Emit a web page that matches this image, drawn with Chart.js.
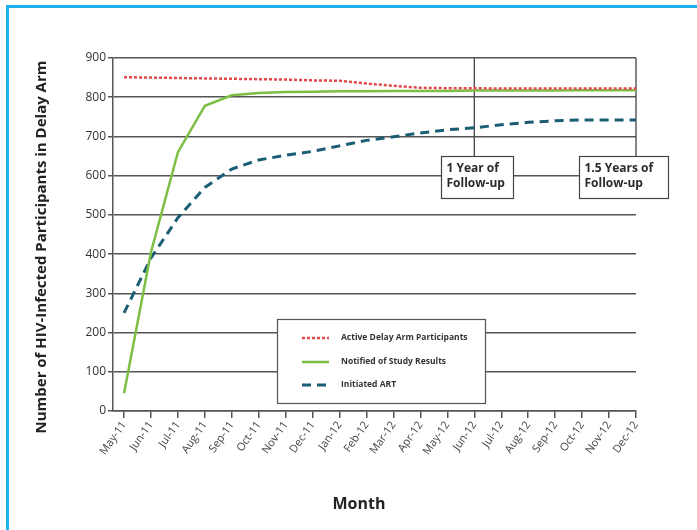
<!DOCTYPE html>
<html><head><meta charset="utf-8">
<script src="https://cdn.jsdelivr.net/npm/chart.js@4.4.1/dist/chart.umd.min.js"></script>
<style>
html,body{margin:0;padding:0;background:#fff;}
#frame{position:absolute;left:6px;top:5px;width:1000px;height:1000px;border-left:3px solid #1cb0ec;border-top:3px solid #1cb0ec;}
#wrap{position:absolute;left:0;top:0;width:697px;height:530px;}
</style></head><body>
<div id="frame"></div>
<div id="wrap"><canvas id="c" width="697" height="530"></canvas></div>
<script>
const months = ['May-11','Jun-11','Jul-11','Aug-11','Sep-11','Oct-11','Nov-11','Dec-11','Jan-12','Feb-12','Mar-12','Apr-12','May-12','Jun-12','Jul-12','Aug-12','Sep-12','Oct-12','Nov-12','Dec-12'];
const activeDelay = [851,850,849,848,847,846,845,843,842,835,829,824,823,823,822,822,822,822,822,822];
const notified = [45,405,660,778,805,811,813,814,815,815,816,816,816,817,817,817,817,818,818,818];
const initiatedART = [250,390,493,570,617,640,652,662,676,690,699,709,717,722,730,736,740,742,742,742];
const seriesNames = ['Active Delay Arm Participants','Notified of Study Results','Initiated ART'];
const yTickValues = [0,100,200,300,400,500,600,700,800,900];
const markerMonths = ['Jun-12','Dec-12'];
const markerLabels = [['1 Year of','Follow-up'],['1.5 Years of','Follow-up']];
const yTitle = 'Number of HIV-Infected Participants in Delay Arm';
const xTitle = 'Month';

const FONT = "'Open Sans', 'DejaVu Sans', sans-serif";
const toPts = arr => arr.map((v,i)=>({x:i,y:v}));

const overlay = {
  id:'overlay',
  beforeDatasetsDraw(chart){
    const {ctx, chartArea, scales:{x}} = chart;
    ctx.save();
    ctx.strokeStyle = '#444'; ctx.lineWidth = 1.3;
    markerMonths.forEach(m=>{
      const px = x.getPixelForValue(months.indexOf(m));
      ctx.beginPath(); ctx.moveTo(px, chartArea.top); ctx.lineTo(px, 157); ctx.stroke();
    });
    ctx.restore();
  },
  afterDraw(chart){
    const {ctx, scales:{x}} = chart;
    ctx.save();
    const boxes = [{dx:-33,w:72},{dx:-57,w:89}];
    markerMonths.forEach((m,k)=>{
      const px = x.getPixelForValue(months.indexOf(m));
      const bx = Math.round(px + boxes[k].dx)+0.5, by = 156.5, bw = boxes[k].w, bh = 42;
      ctx.fillStyle = '#fff'; ctx.fillRect(bx,by,bw,bh);
      ctx.strokeStyle = '#444'; ctx.lineWidth = 1.2; ctx.strokeRect(bx,by,bw,bh);
      ctx.fillStyle = '#2a2a2a'; ctx.font = "bold 12px " + FONT;
      ctx.textAlign = 'left'; ctx.textBaseline = 'middle';
      markerLabels[k].forEach((t,j)=> ctx.fillText(t, bx+5, 169 + j*14.5));
    });
    const lx = 277.5, ly = 319.5, lw = 208, lh = 84;
    ctx.fillStyle = '#fff'; ctx.fillRect(lx,ly,lw,lh);
    ctx.strokeStyle = '#555'; ctx.lineWidth = 1.2; ctx.strokeRect(lx,ly,lw,lh);
    const rows = [338, 362, 385];
    chart.data.datasets.forEach((ds,i)=>{
      ctx.save();
      ctx.strokeStyle = ds.borderColor; ctx.lineWidth = ds.borderWidth;
      ctx.setLineDash(ds.borderDash || []);
      ctx.beginPath(); ctx.moveTo(302, rows[i]); ctx.lineTo(329, rows[i]); ctx.stroke();
      ctx.restore();
      ctx.fillStyle = '#333'; ctx.font = "bold 8.5px " + FONT;
      ctx.textAlign = 'left'; ctx.textBaseline = 'middle';
      ctx.fillText(ds.label, 341, rows[i]);
    });
    ctx.fillStyle = '#222';
    ctx.font = "bold 15px " + FONT;
    ctx.textAlign = 'center'; ctx.textBaseline = 'middle';
    ctx.save(); ctx.translate(42, 247); ctx.rotate(-Math.PI/2); ctx.fillText(yTitle, 0, 0); ctx.restore();
    ctx.font = "bold 16px " + FONT;
    ctx.fillText(xTitle, 359, 504);
    ctx.restore();
  }
};

new Chart(document.getElementById('c').getContext('2d'), {
  type:'line',
  data:{ datasets:[
    {label:seriesNames[0], data:toPts(activeDelay), borderColor:'#e5474b', borderWidth:2.5, borderDash:[3,2], pointRadius:0, tension:0, clip:false},
    {label:seriesNames[1], data:toPts(notified), borderColor:'#7dbf45', borderWidth:2.5, pointRadius:0, tension:0, clip:false},
    {label:seriesNames[2], data:toPts(initiatedART), borderColor:'#1b5d74', borderWidth:3, borderDash:[9,6], pointRadius:0, tension:0, clip:false}
  ]},
  options:{
    responsive:false, animation:false,
    layout:{padding:{left:12, top:58, right:61, bottom:0}},
    plugins:{legend:{display:false}, tooltip:{enabled:false}},
    scales:{
      x:{
        type:'linear', min:-0.41, max:months.length-1,
        afterBuildTicks: s=>{ s.ticks = months.map((m,i)=>({value:i})); },
        afterFit: s=>{ s.height = 530-411; },
        ticks:{ callback:(v)=>months[v], maxRotation:55, minRotation:55, autoSkip:false,
                font:{family:FONT, size:11}, color:'#444', padding:1 },
        grid:{ drawOnChartArea:false, drawTicks:true, tickLength:7, color:'#555', lineWidth:1.5 },
        border:{ display:true, color:'#555', width:1.5 }
      },
      y:{
        min:0, max:900,
        afterBuildTicks: s=>{ s.ticks = yTickValues.map(v=>({value:v})); },
        afterFit: s=>{ s.width = 113-12; },
        ticks:{ font:{family:FONT, size:12}, color:'#333', padding:2 },
        grid:{ color:'#555', lineWidth:1.5, tickLength:5 },
        border:{ color:'#555', width:1.5 }
      }
    }
  },
  plugins:[overlay]
});
</script>
</body></html>
